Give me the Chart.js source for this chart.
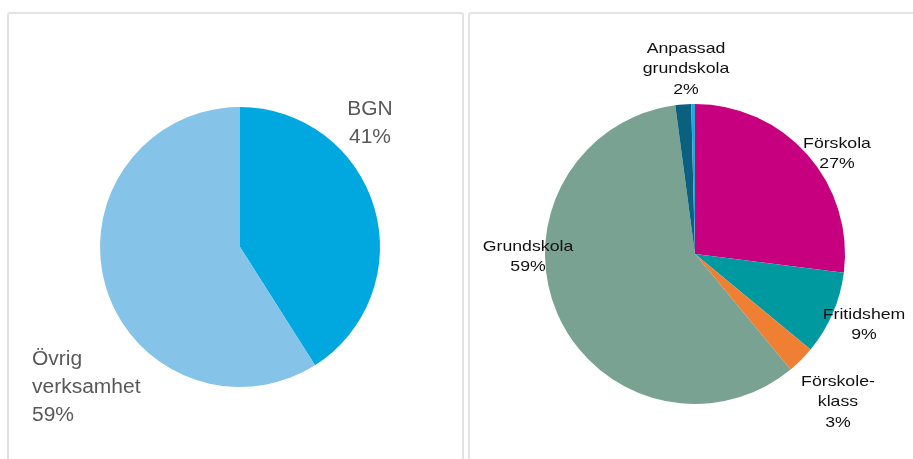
<!DOCTYPE html>
<html>
<head>
<meta charset="utf-8">
<script src="https://cdn.jsdelivr.net/npm/chart.js@4.4.0/dist/chart.umd.min.js"></script>
<style>
  html, body { margin: 0; padding: 0; background: #fff; }
  body { width: 913px; height: 459px; position: relative; overflow: hidden; }
  .panel { position: absolute; top: 12px; height: 470px; border: 2px solid #e2e2e2; border-radius: 3px; box-sizing: border-box; }
  #p1 { left: 7px; width: 457px; }
  #p2 { left: 468px; width: 470px; }
  canvas { position: absolute; }
</style>
</head>
<body>
<div class="panel" id="p1"></div>
<div class="panel" id="p2"></div>
<canvas id="orgChart" width="452" height="445" style="left:9px;top:14px"></canvas>
<canvas id="schoolChart" width="443" height="445" style="left:470px;top:14px"></canvas>
<script>
// Left pie: share of BGN
const orgLabels = ['BGN', 'Övrig verksamhet'];
const orgValues = [41, 59];
const orgColors = ['#00a8df', '#86c3e8'];

// Right pie: school forms (last slice is an unlabelled sliver)
const schoolLabels = ['Förskola', 'Fritidshem', 'Förskole-klass', 'Grundskola', 'Anpassad grundskola', ''];
const schoolValues = [27, 9, 3, 58.9, 1.7, 0.4];
const schoolColors = ['#c6007e', '#00999f', '#ef7f32', '#7aa292', '#0b5f7f', '#1fa9dc'];

// label text per slice, placed relative to the pie centre
const orgText = {
    font: '20px "Liberation Sans", Arial, sans-serif',
    color: '#595959',
    lineHeight: 28,
    stretch: 1.05,
    items: [
        { lines: ['BGN'], dx: 130, dy: -124 },
        { lines: ['Övrig', 'verksamhet'], dx: -208, dy: 140, align: 'left' }
    ]
};
const schoolText = {
    font: '15px "Liberation Sans", Arial, sans-serif',
    color: '#111',
    lineHeight: 20.5,
    stretch: 1.18,
    items: [
        { lines: ['Förskola'], dx: 142, dy: -100 },
        { lines: ['Fritidshem'], dx: 169, dy: 71 },
        { lines: ['Förskole-', 'klass'], dx: 143, dy: 148 },
        { lines: ['Grundskola'], dx: -167, dy: 3 },
        { lines: ['Anpassad', 'grundskola'], dx: -9, dy: -185 }
    ]
};

function sliceLabels(cfg) {
    return {
        id: 'sliceLabels',
        afterDatasetsDraw(chart) {
            const c = chart.ctx;
            const arcs = chart.getDatasetMeta(0).data;
            const vals = chart.data.datasets[0].data;
            c.save();
            c.font = cfg.font;
            c.fillStyle = cfg.color;
            c.textBaseline = 'middle';
            cfg.items.forEach((it, i) => {
                const arc = arcs[i];
                const lines = it.lines.concat([Math.round(vals[i]) + '%']);
                const x = arc.x + it.dx;
                const y0 = arc.y + it.dy - (lines.length - 1) * cfg.lineHeight / 2;
                c.textAlign = it.align || 'center';
                lines.forEach((t, j) => {
                    c.save();
                    c.translate(x, y0 + j * cfg.lineHeight);
                    c.scale(cfg.stretch, 1);
                    c.fillText(t, 0, 0);
                    c.restore();
                });
            });
            c.restore();
        }
    };
}

const baseOptions = {
    responsive: false,
    animation: false,
    events: [],
    plugins: { legend: { display: false }, tooltip: { enabled: false } }
};

new Chart(document.getElementById('orgChart'), {
    type: 'pie',
    data: {
        labels: orgLabels,
        datasets: [{ data: orgValues, backgroundColor: orgColors, borderWidth: 0 }]
    },
    options: {
        ...baseOptions,
        layout: { padding: { left: 91, right: 81, top: 93, bottom: 72 } }
    },
    plugins: [sliceLabels(orgText)]
});

new Chart(document.getElementById('schoolChart'), {
    type: 'pie',
    data: {
        labels: schoolLabels,
        datasets: [{ data: schoolValues, backgroundColor: schoolColors, borderWidth: 0 }]
    },
    options: {
        ...baseOptions,
        layout: { padding: { left: 75, right: 68, top: 90, bottom: 55 } }
    },
    plugins: [sliceLabels(schoolText)]
});
</script>
</body>
</html>
